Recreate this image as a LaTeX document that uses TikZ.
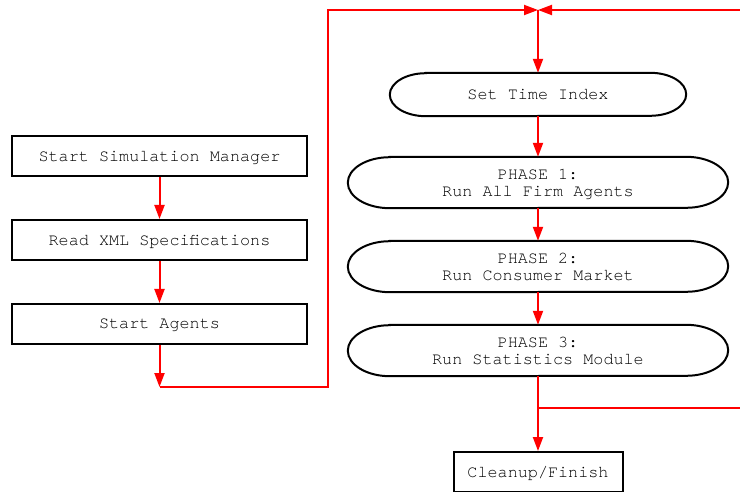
\documentclass[tikz,border=0pt]{standalone}
\usepackage{fontspec}
\setmonofont{TeX Gyre Cursor}
\usetikzlibrary{arrows.meta,calc}
\begin{document}
\begin{tikzpicture}[x=1pt,y=-1pt,
  txt/.style={font=\ttfamily\fontsize{16.8}{17}\selectfont,align=center,inner sep=0pt,text depth=0pt},
  stepbox/.style={txt,draw=black,line width=2pt,minimum width=295pt,minimum height=40pt},
  pillnode/.style={txt,minimum height=#1},
  pilline/.style={draw=black,line width=2pt},
  flow/.style={draw=red,line width=2pt,-{Triangle[length=14pt,width=10pt]}},
  link/.style={draw=red,line width=2pt}]
\useasboundingbox (0,0) rectangle (740,492);
\clip (0,0) rectangle (740,492);

% outline of a stadium-like node with elliptical ends: name, end x radius, half height
\newcommand\pilloutline[3]{%
  \draw[pilline] ($(#1.north west)+(#2,0)$) -- ($(#1.north east)+(-#2,0)$)
    arc[start angle=90,end angle=-90,x radius=#2pt,y radius=#3pt]
    -- ($(#1.south west)+(#2,0)$)
    arc[start angle=270,end angle=90,x radius=#2pt,y radius=#3pt] -- cycle;}

% start-up column
\node[stepbox] (manager) at (159.5,156) {Start Simulation Manager};
\node[stepbox] (xml)     at (159.5,240) {Read XML Specifications};
\node[stepbox] (agents)  at (159.5,324) {Start Agents};

% simulation loop
\node[pillnode=43pt,minimum width=296pt] (time) at (538,94.5) {Set Time Index};
\node[pillnode=51pt,minimum width=380pt] (p1) at (538,182.5) {PHASE 1:\\Run All Firm Agents};
\node[pillnode=51pt,minimum width=380pt] (p2) at (538,266.5) {PHASE 2:\\Run Consumer Market};
\node[pillnode=51pt,minimum width=380pt] (p3) at (538,350.5) {PHASE 3:\\Run Statistics Module};
\pilloutline{time}{36}{21.5}
\pilloutline{p1}{42}{25.5}
\pilloutline{p2}{42}{25.5}
\pilloutline{p3}{42}{25.5}

\node[stepbox,minimum width=169pt] (finish) at (538,472) {Cleanup/Finish};

% junction points of the connectors
\coordinate (jA) at (159.5,387);
\coordinate (jB) at (328,387);
\coordinate (jC) at (328,10);
\coordinate (top) at (538,10);
\coordinate (topedge) at (740,10);
\coordinate (split) at (538,408);
\coordinate (splitedge) at (740,408);

\draw[flow] (manager) -- (xml);
\draw[flow] (xml) -- (agents);
\draw[flow] (agents) -- (jA);
\draw[flow] (jA) -- (jB) -- (jC) -- (top);
\draw[flow] (topedge) -- (top);
\draw[flow] (top) -- (time.north);
\draw[flow] (time) -- (p1);
\draw[flow] (p1) -- (p2);
\draw[flow] (p2) -- (p3);
\draw[flow] (p3.south) -- (finish.north);
\draw[link] (split) -- (splitedge);
\end{tikzpicture}
\end{document}
